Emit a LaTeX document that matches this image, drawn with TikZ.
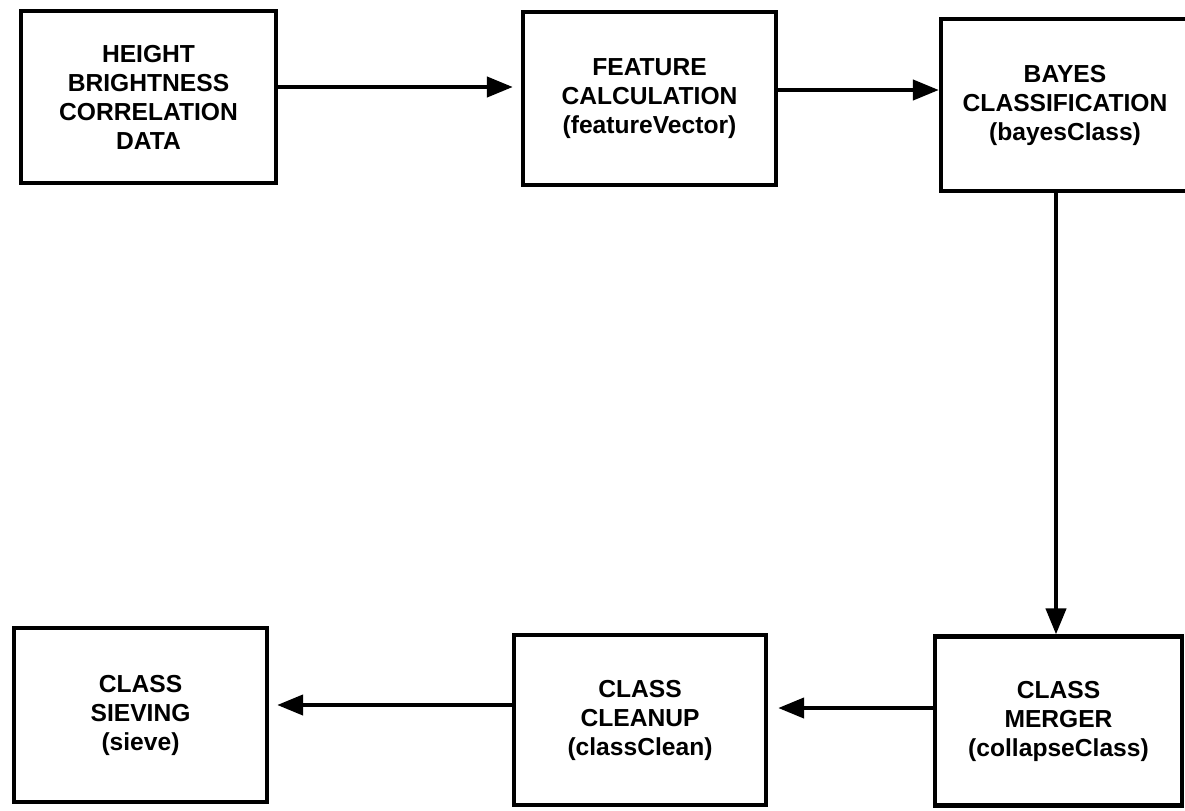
\documentclass[tikz,border=0pt]{standalone}
\usepackage{fontspec}
\setmainfont{Liberation Sans}
\usetikzlibrary{arrows.meta}
\begin{document}
\begin{tikzpicture}[x=0.025cm,y=-0.025cm,
  procbox/.style={draw=black, line width=3pt, fill=white, align=center,
    inner sep=0pt, font=\fontsize{17.5}{20.6}\selectfont\bfseries},
  flow/.style={line width=3pt, -{Triangle[length=0.65cm,width=0.5cm]}}]
\useasboundingbox (0,0) rectangle (1185,810);
\fill[white] (0,0) rectangle (1185,810);
\node[procbox, minimum width=6.375cm, minimum height=4.3cm] (data) at (148.5,97)
  {HEIGHT\\BRIGHTNESS\\CORRELATION\\DATA};
\node[procbox, minimum width=6.325cm, minimum height=4.325cm] (feat) at (649.5,98.5)
  {FEATURE\\CALCULATION\\(featureVector)};
\node[procbox, minimum width=6.2cm, minimum height=4.3cm] (bayes) at (1065,105)
  {BAYES\\CLASSIFICATION\\(bayesClass)};
\node[procbox, minimum width=6.175cm, minimum height=4.225cm] (merge) at (1058.5,721)
  {CLASS\\MERGER\\(collapseClass)};
\node[procbox, minimum width=6.3cm, minimum height=4.25cm] (clean) at (640,720)
  {CLASS\\CLEANUP\\(classClean)};
\node[procbox, minimum width=6.325cm, minimum height=4.35cm] (sieve) at (140.5,715)
  {CLASS\\SIEVING\\(sieve)};
\draw[flow, shorten >=0.2cm] (data.east |- 0,87) -- (feat.west |- 0,87);
\draw[flow] (feat.east |- 0,90) -- (bayes.west |- 0,90);
\draw[flow] (bayes.south -| 1056,0) -- (merge.north -| 1056,0);
\draw[flow, shorten >=0.25cm] (merge.west |- 0,708) -- (clean.east |- 0,708);
\draw[flow, shorten >=0.2cm] (clean.west |- 0,705) -- (sieve.east |- 0,705);
\end{tikzpicture}
\end{document}
